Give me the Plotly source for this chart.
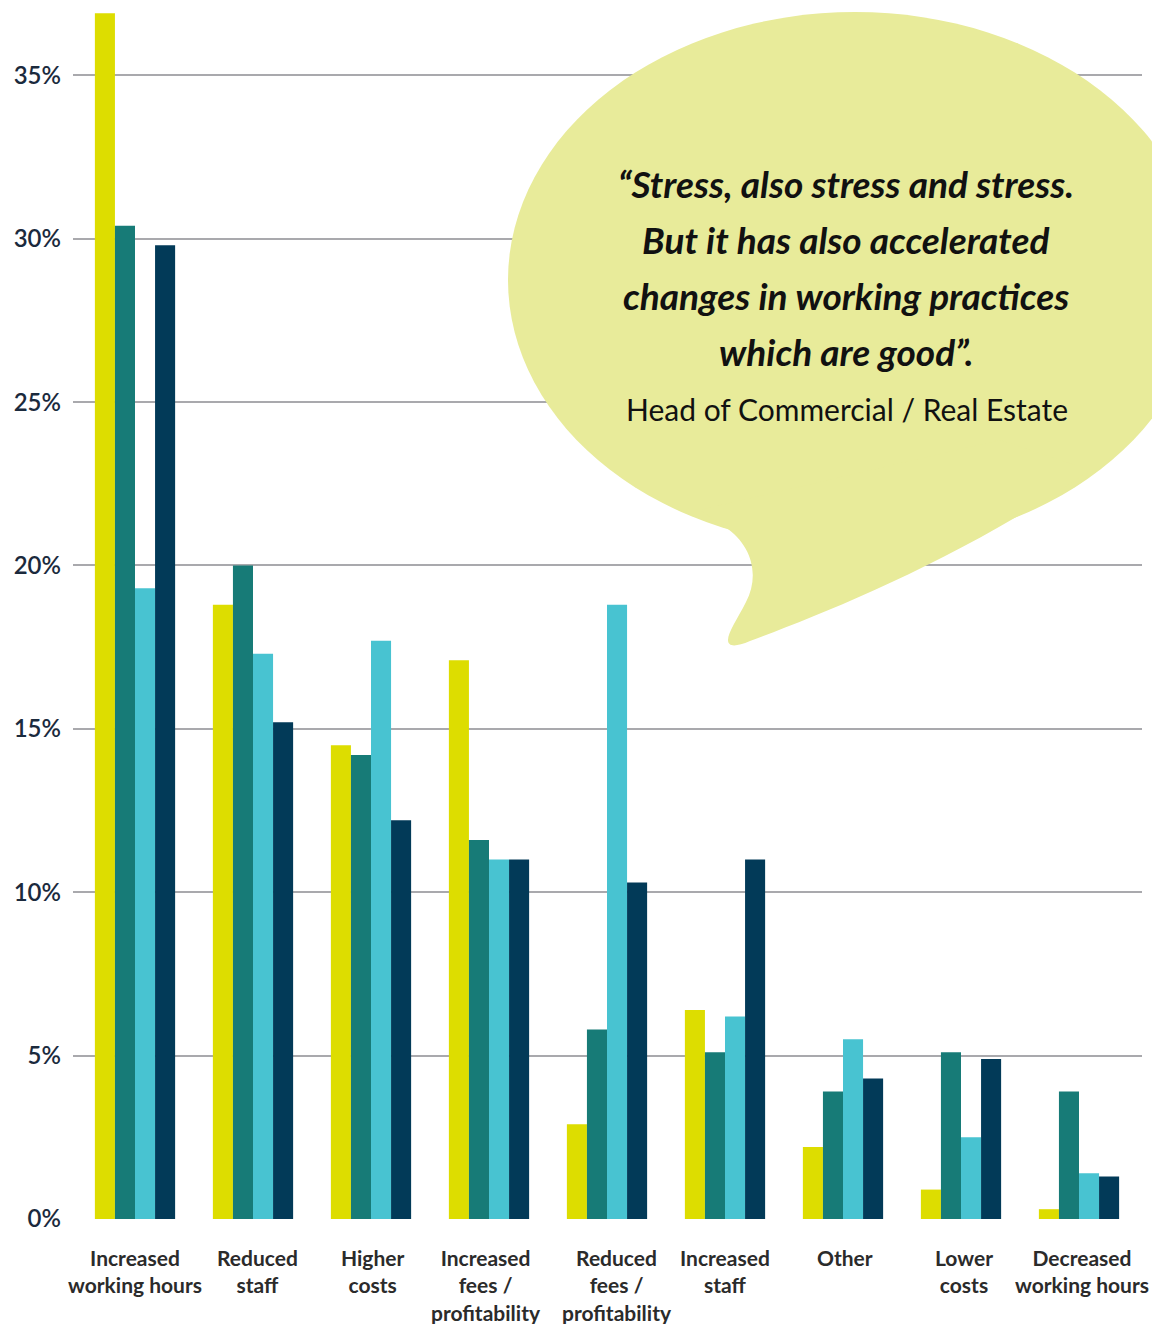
import plotly.graph_objects as go

# ---- data -------------------------------------------------------------
categories = [
    "Increased<br>working hours",
    "Reduced<br>staff",
    "Higher<br>costs",
    "Increased<br>fees /<br>profitability",
    "Reduced<br>fees /<br>profitability",
    "Increased<br>staff",
    "Other",
    "Lower<br>costs",
    "Decreased<br>working hours",
]
series_names = ["Group 1", "Group 2", "Group 3", "Group 4"]
values_1 = [36.9, 18.8, 14.5, 17.1, 2.9, 6.4, 2.2, 0.9, 0.3]
values_2 = [30.4, 20.0, 14.2, 11.6, 5.8, 5.1, 3.9, 5.1, 3.9]
values_3 = [19.3, 17.3, 17.7, 11.0, 18.8, 6.2, 5.5, 2.5, 1.4]
values_4 = [29.8, 15.2, 12.2, 11.0, 10.3, 11.0, 4.3, 4.9, 1.3]
y_ticks = [0, 5, 10, 15, 20, 25, 30, 35]
y_tick_labels = [f"{v}%" for v in y_ticks]

quote_lines = [
    "\u201cStress, also stress and stress.",
    "But it has also accelerated",
    "changes in working practices",
    "which are good\u201d.",
]
attribution = "Head of Commercial / Real Estate"

colors = ["#dddd00", "#177b77", "#48c3d1", "#023a58"]
bubble_color = "#e8eb9a"

# ---- layout geometry (pixels) ------------------------------------------
W, H = 1152, 1324
ML, MR, MT, MB = 73, 10, 10, 105
PW = W - ML - MR
PH = H - MT - MB
GROUP_STEP = 118          # pixels between neighbouring category centres
FIRST_CENTRE = 135        # pixel x of the first category centre
x_lo = -(FIRST_CENTRE - ML) / GROUP_STEP
x_hi = x_lo + PW / GROUP_STEP

# small horizontal nudges for the category captions
label_shift = [0, 4, 2, -3, 10, 0, 2, 3, 3]


def px(xp):
    return (xp - ML) / PW


def py(yp):
    return (H - MB - yp) / PH


fig = go.Figure()
x_idx = list(range(len(categories)))
for name, vals, col in zip(series_names, [values_1, values_2, values_3, values_4], colors):
    fig.add_trace(go.Bar(
        x=x_idx, y=vals, name=name, marker=dict(color=col, line=dict(width=0)),
        hoverinfo="y",
    ))

# category captions under the axis
for i, (lab, dx) in enumerate(zip(categories, label_shift)):
    fig.add_annotation(
        x=i, y=py(1243), xref="x", yref="paper", xshift=dx,
        text=lab, showarrow=False, xanchor="center", yanchor="top",
        align="center",
        font=dict(family="Lato", size=21, color="#2b2b2b", weight="bold"),
    )

# speech bubble: ellipse body + tail
fig.add_shape(type="circle", xref="paper", yref="paper",
              x0=px(508), x1=px(1202), y0=py(548), y1=py(12),
              fillcolor=bubble_color, line=dict(width=0), layer="above")

tail_pts = [
    ("M", [(700, 510)]),
    ("L", [(725, 527)]),
    ("C", [(752, 545), (760, 575), (746, 602)]),
    ("C", [(738, 618), (728, 632), (728, 640)]),
    ("C", [(728, 647), (736, 647), (750, 641)]),
    ("C", [(820, 615), (960, 560), (1090, 470)]),
    ("L", [(1000, 440)]),
]
path = ""
for cmd, pts in tail_pts:
    path += cmd + " " + " ".join(f"{px(a):.5f},{py(b):.5f}" for a, b in pts) + " "
path += "Z"
fig.add_shape(type="path", xref="paper", yref="paper", path=path,
              fillcolor=bubble_color, line=dict(width=0), layer="above")

line_y = [183, 239, 295, 351]
for txt, yy in zip(quote_lines, line_y):
    fig.add_annotation(
        x=px(846), y=py(yy), xref="paper", yref="paper",
        text=txt, showarrow=False, xanchor="center", yanchor="middle",
        font=dict(family="Lato", size=37, color="#111111", weight="bold", style="italic"),
    )
fig.add_annotation(
    x=px(847), y=py(409), xref="paper", yref="paper",
    text=attribution, showarrow=False, xanchor="center", yanchor="middle",
    font=dict(family="Lato", size=30, color="#111111"),
)

fig.update_layout(
    width=W, height=H,
    margin=dict(l=ML, r=MR, t=MT, b=MB, pad=0),
    paper_bgcolor="white", plot_bgcolor="white",
    barmode="group", bargap=0.32, bargroupgap=0,
    showlegend=False,
    font=dict(family="Lato"),
    xaxis=dict(
        range=[x_lo, x_hi],
        showticklabels=False,
        showgrid=False, zeroline=False, showline=False, ticks="",
    ),
    yaxis=dict(
        range=[0, 37], tickmode="array", tickvals=y_ticks, ticktext=y_tick_labels,
        showgrid=True, gridcolor="#a9a9ad", gridwidth=2,
        zeroline=False, showline=False, ticks="", ticklabelstandoff=11,
        tickfont=dict(family="Lato", size=24, color="#1b2a3d", weight=600),
    ),
)

fig.write_html("out.html")
